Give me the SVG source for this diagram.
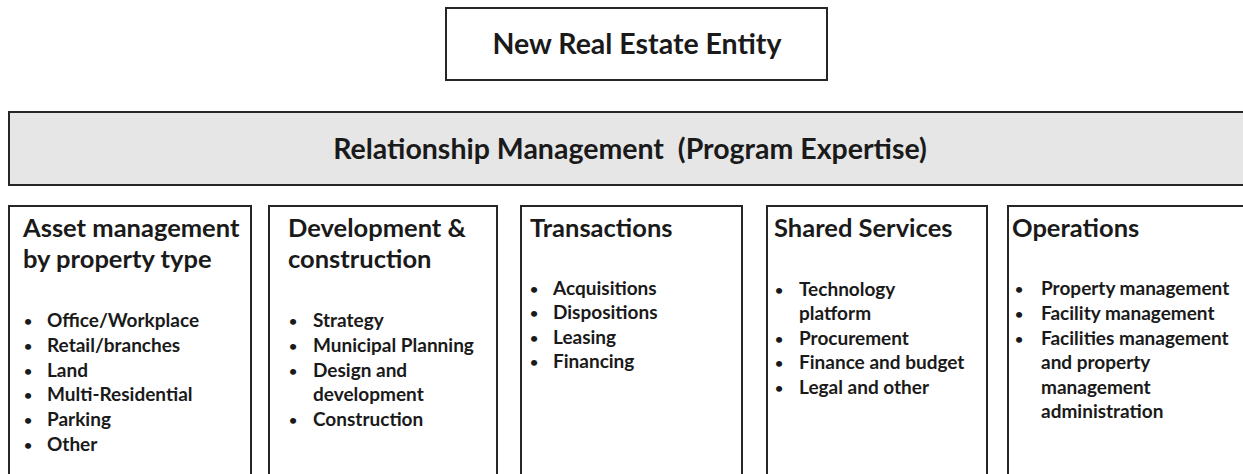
<svg xmlns="http://www.w3.org/2000/svg" width="1243" height="474" viewBox="0 0 1243 474">
<style>
.box{fill:#ffffff;stroke:#262626;stroke-width:2}
.bar{fill:#e6e6e6;stroke:#262626;stroke-width:2}
text{font-family:Lato,"Open Sans","Liberation Sans",sans-serif;fill:#1a1a1a;font-weight:bold;white-space:pre}
.top{font-size:28.5px}
.big{font-size:25.5px}
.item{font-size:19px}
.dot{font-size:14px}
</style>
<rect width="1243" height="474" fill="#ffffff"/>
<g id="entity">
<rect class="box" x="446" y="8" width="381" height="72"/>
<text class="top" x="637" y="54" text-anchor="middle">New Real Estate Entity</text>
</g>
<g id="relationship">
<rect class="bar" x="9" y="112" width="1250" height="73"/>
<text class="top" x="630" y="159" text-anchor="middle" xml:space="preserve">Relationship Management  (Program Expertise)</text>
</g>
<g id="asset">
<rect class="box" x="9" y="206" width="242" height="290"/>
<text class="big" x="23" y="237">Asset management</text>
<text class="big" x="23" y="268">by property type</text>
<text class="dot" x="24" y="326">•</text><text class="item" x="47" y="327">Office/Workplace</text>
<text class="dot" x="24" y="351">•</text><text class="item" x="47" y="352">Retail/branches</text>
<text class="dot" x="24" y="376">•</text><text class="item" x="47" y="377">Land</text>
<text class="dot" x="24" y="400">•</text><text class="item" x="47" y="401">Multi-Residential</text>
<text class="dot" x="24" y="425">•</text><text class="item" x="47" y="426">Parking</text>
<text class="dot" x="24" y="450">•</text><text class="item" x="47" y="451">Other</text>
</g>
<g id="development">
<rect class="box" x="269" y="206" width="228" height="290"/>
<text class="big" x="288" y="237">Development &amp;</text>
<text class="big" x="288" y="268">construction</text>
<text class="dot" x="289" y="326">•</text><text class="item" x="313" y="327">Strategy</text>
<text class="dot" x="289" y="351">•</text><text class="item" x="313" y="352">Municipal Planning</text>
<text class="dot" x="289" y="376">•</text><text class="item" x="313" y="377">Design and</text>
<text class="item" x="313" y="401">development</text>
<text class="dot" x="289" y="425">•</text><text class="item" x="313" y="426">Construction</text>
</g>
<g id="transactions">
<rect class="box" x="521" y="206" width="221" height="290"/>
<text class="big" x="530" y="237">Transactions</text>
<text class="dot" x="530" y="294">•</text><text class="item" x="553" y="295">Acquisitions</text>
<text class="dot" x="530" y="318">•</text><text class="item" x="553" y="319">Dispositions</text>
<text class="dot" x="530" y="343">•</text><text class="item" x="553" y="344">Leasing</text>
<text class="dot" x="530" y="367">•</text><text class="item" x="553" y="368">Financing</text>
</g>
<g id="shared">
<rect class="box" x="767" y="206" width="220" height="290"/>
<text class="big" x="774" y="237">Shared Services</text>
<text class="dot" x="775" y="295">•</text><text class="item" x="799" y="296">Technology</text>
<text class="item" x="799" y="320">platform</text>
<text class="dot" x="775" y="344">•</text><text class="item" x="799" y="345">Procurement</text>
<text class="dot" x="775" y="368">•</text><text class="item" x="799" y="369">Finance and budget</text>
<text class="dot" x="775" y="393">•</text><text class="item" x="799" y="394">Legal and other</text>
</g>
<g id="operations">
<rect class="box" x="1008" y="206" width="250" height="290"/>
<text class="big" x="1012" y="237">Operations</text>
<text class="dot" x="1015" y="294">•</text><text class="item" x="1041" y="295">Property management</text>
<text class="dot" x="1015" y="319">•</text><text class="item" x="1041" y="320">Facility management</text>
<text class="dot" x="1015" y="344">•</text><text class="item" x="1041" y="345">Facilities management</text>
<text class="item" x="1041" y="369">and property</text>
<text class="item" x="1041" y="394">management</text>
<text class="item" x="1041" y="418">administration</text>
</g>
<g id="connectors"></g>
</svg>
